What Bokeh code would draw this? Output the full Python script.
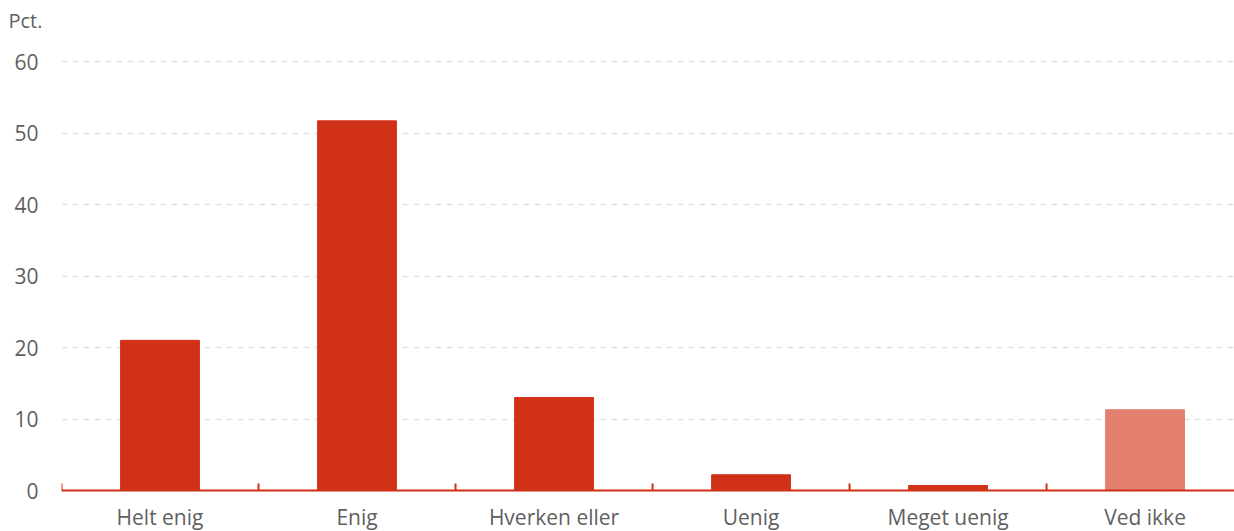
from bokeh.plotting import figure
from bokeh.models import ColumnDataSource, FixedTicker, Range1d, Span
from bokeh.core.properties import value
from bokeh.embed import file_html
from bokeh.resources import INLINE

categories = ["Helt enig", "Enig", "Hverken eller", "Uenig", "Meget uenig", "Ved ikke"]
values = [21.0, 51.7, 13.0, 2.2, 0.7, 11.3]
colors = ["#D13117", "#D13117", "#D13117", "#D13117", "#D13117", "#E38070"]
y_ticks = [0, 10, 20, 30, 40, 50, 60]
unit_label = "Pct."

FONT = "Open Sans"
GREY = "#5f5f5f"
RED = "#D13117"

PX = 429 / 60.0          # pixels per percentage point
ZERO_PX = 490            # screen row of the zero line
TOP = 37                 # screen row of the frame top
H = 531
n = len(categories)
xs = list(range(n))
src = ColumnDataSource(dict(x=xs, top=values, color=colors))

p = figure(width=1234, height=H, output_backend="svg", toolbar_location=None,
           x_range=Range1d(-0.5, 5.454),
           y_range=Range1d(-(H - ZERO_PX) / PX, (ZERO_PX - TOP) / PX),
           min_border_left=61, min_border_right=0, min_border_top=TOP, min_border_bottom=0)
p.outline_line_color = None
p.background_fill_color = "white"
p.border_fill_color = "white"

p.vbar(x="x", top="top", width=0.4, color="color", source=src)

# baseline axis drawn inside the frame
p.xaxis.visible = False
p.add_layout(Span(location=0, dimension="width", line_color=RED, line_width=2))
bounds = [i - 0.5 for i in range(n + 1)]
p.segment(x0=bounds, x1=bounds, y0=[0] * len(bounds), y1=[7 / PX] * len(bounds),
          line_color=RED, line_width=2)
p.text(x=xs, y=[0] * n, text=categories, y_offset=40,
       text_align="center", text_baseline="bottom",
       text_font=value(FONT), text_font_size="21px", text_color=GREY)

# y axis
p.yaxis.ticker = FixedTicker(ticks=y_ticks)
p.yaxis.axis_line_color = None
p.yaxis.major_tick_line_color = None
p.yaxis.minor_tick_line_color = None
p.yaxis.major_label_text_font = FONT
p.yaxis.major_label_text_font_size = "21px"
p.yaxis.major_label_text_color = GREY
p.yaxis.major_label_standoff = 17

p.xgrid.grid_line_color = None
p.ygrid.ticker = FixedTicker(ticks=y_ticks)
p.ygrid.grid_line_color = "#e2e2e2"
p.ygrid.grid_line_width = 1.5
p.ygrid.grid_line_dash = "6 5"

p.title.text = unit_label
p.title.align = "left"
p.title.offset = -53
p.title.text_font = FONT
p.title.text_font_size = "20px"
p.title.text_font_style = "normal"
p.title.text_color = GREY
p.title.standoff = 8

open("out.html", "w").write(file_html(p, INLINE))
